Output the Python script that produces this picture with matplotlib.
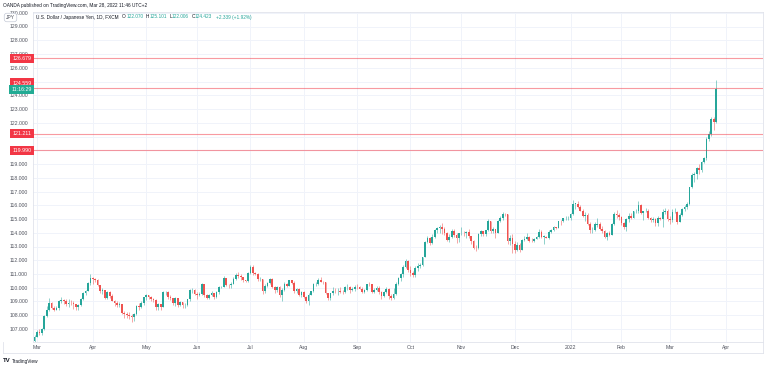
import matplotlib
matplotlib.use("Agg")
import matplotlib.pyplot as plt
import matplotlib.transforms as mtransforms
from matplotlib.lines import Line2D
import pandas as pd

plt.rcParams["font.family"] = ["Liberation Sans", "DejaVu Sans"]

W, H = 768, 368

# USD/JPY daily, first candle Fri 2021-02-26, every weekday after that
start_date = "2021-02-26"
first_open = 106.10

closes = [
    106.45,
    # Mar 2021
    106.75, 106.70, 107.00, 107.97, 108.35, 108.90, 108.50, 108.40, 108.50, 109.03, 109.13, 109.00,
    108.83, 108.90, 108.88, 108.80, 108.58, 108.73, 109.15, 109.62, 109.80, 110.35, 110.72,
    # Apr
    110.62, 110.60, 110.18, 109.73, 109.85, 109.28, 109.67, 109.40, 109.05, 108.90, 108.75, 108.80,
    108.15, 108.10, 108.05, 107.95, 107.85, 108.08, 108.70, 108.62, 108.90, 109.30,
    # May
    109.45, 109.30, 109.20, 109.08, 108.58, 108.80, 108.62, 109.68, 109.72, 109.35, 109.22, 108.90,
    109.22, 108.78, 108.95, 108.75, 108.75, 109.15, 109.83, 109.85, 109.56,
    # Jun
    109.50, 109.52, 110.28, 109.50, 109.25, 109.48, 109.62, 109.32, 109.66, 110.06, 110.08, 110.70,
    110.22, 110.20, 110.30, 110.65, 110.93, 110.88, 110.75, 110.58, 110.48, 111.06,
    # Jul
    111.52, 111.05, 110.98, 110.62, 110.62, 109.75, 110.15, 110.35, 110.62, 110.04, 109.82, 110.06,
    109.45, 109.85, 110.28, 110.16, 110.55, 110.38, 109.77, 109.90, 109.47, 109.70,
    # Aug
    109.30, 109.05, 109.48, 109.75, 110.24, 110.27, 110.58, 110.42, 110.40, 109.60, 109.25, 109.60,
    109.78, 109.75, 109.78, 109.72, 109.68, 110.04, 110.07, 109.84, 109.90, 110.03,
    # Sep
    110.02, 109.93, 109.71, 109.84, 110.26, 110.25, 109.72, 109.87, 110.00, 109.68, 109.38, 109.71,
    109.94, 109.39, 109.23, 109.52, 110.30, 110.74, 110.99, 111.50, 111.96, 111.29,
    # Oct
    111.06, 110.93, 111.45, 111.55, 111.62, 112.23, 113.32, 113.60, 113.26, 113.68, 114.22, 114.34,
    114.39, 114.30, 114.00, 113.48, 113.70, 114.14, 113.82, 113.60, 113.95,
    # Nov
    114.00, 113.96, 114.05, 113.75, 113.40, 112.90, 112.88, 113.90, 114.10, 113.88, 114.18, 114.82,
    114.10, 114.28, 114.00, 114.85, 115.08, 115.38, 115.35, 113.38, 113.65, 113.15,
    # Dec
    112.78, 113.10, 112.78, 113.48, 113.55, 113.72, 113.42, 113.40, 113.58, 113.70, 114.05, 113.70,
    113.70, 113.65, 114.08, 114.22, 114.42, 114.38, 114.84, 114.82, 115.05, 115.06, 115.08,
    # Jan 2022
    115.34, 116.12, 116.12, 115.85, 115.58, 115.20, 115.30, 114.62, 114.19, 114.20, 114.60, 114.62,
    114.28, 114.10, 113.68, 113.98, 113.87, 114.65, 115.38, 115.26, 115.12,
    # Feb
    114.70, 114.40, 114.98, 115.25, 115.08, 115.55, 115.55, 116.02, 115.42, 115.57, 115.58, 115.08,
    114.90, 115.00, 114.73, 115.05, 115.00, 115.52, 115.58, 114.98,
    # Mar 2022
    114.90, 115.48, 115.52, 114.78, 115.30, 115.70, 115.90, 116.08, 117.30, 118.18, 118.30, 118.68,
    118.60, 119.18, 119.42, 120.85, 121.16, 122.30, 122.07, 124.423,
]

highs = [
    106.55,
    106.95, 107.00, 107.05, 108.00, 108.64, 109.23, 108.98, 108.70, 108.70, 109.13, 109.36, 109.20,
    109.15, 109.20, 109.10, 109.05, 108.85, 108.80, 109.25, 109.70, 109.85, 110.45, 110.97,
    110.80, 110.70, 110.65, 110.20, 109.95, 109.85, 109.75, 109.75, 109.55, 109.10, 109.00, 108.95,
    108.80, 108.30, 108.25, 108.20, 108.10, 108.15, 108.75, 108.90, 109.05, 109.35,
    109.55, 109.50, 109.40, 109.25, 109.15, 108.90, 108.85, 109.78, 109.80, 109.75, 109.45, 109.25,
    109.30, 109.25, 109.05, 108.95, 108.90, 109.20, 109.90, 110.00, 109.90,
    109.70, 109.70, 110.33, 110.25, 109.55, 109.55, 109.75, 109.65, 109.80, 110.10, 110.15, 110.82,
    110.70, 110.28, 110.40, 110.80, 111.10, 111.12, 111.00, 110.80, 110.60, 111.12,
    111.66, 111.65, 111.15, 111.05, 110.80, 110.65, 110.25, 110.45, 110.70, 110.70, 110.10, 110.10,
    110.10, 110.00, 110.40, 110.35, 110.60, 110.60, 110.50, 110.00, 109.95, 109.80,
    109.75, 109.40, 109.65, 109.80, 110.35, 110.40, 110.70, 110.80, 110.50, 110.45, 109.60, 109.65,
    110.05, 110.00, 109.95, 110.05, 109.85, 110.15, 110.25, 110.10, 110.05, 110.20,
    110.25, 110.10, 110.05, 109.90, 110.30, 110.45, 110.30, 110.00, 110.15, 110.15, 109.75, 109.80,
    110.05, 109.95, 109.55, 109.95, 110.45, 110.80, 111.05, 111.65, 112.08, 112.00,
    111.60, 111.20, 111.55, 111.80, 111.80, 112.25, 113.40, 113.80, 113.70, 113.90, 114.25, 114.45,
    114.55, 114.70, 114.40, 114.05, 113.90, 114.30, 114.30, 113.95, 114.00,
    114.45, 114.15, 114.15, 114.25, 113.80, 113.45, 113.10, 114.00, 114.20, 114.15, 114.22, 114.97,
    114.82, 114.40, 114.30, 114.90, 115.20, 115.52, 115.45, 115.30, 113.85, 113.90,
    113.40, 113.30, 113.25, 113.55, 113.80, 113.95, 113.75, 113.65, 113.65, 113.80, 114.25, 114.20,
    113.85, 113.80, 114.20, 114.30, 114.52, 114.45, 114.85, 114.95, 115.08, 115.20, 115.25,
    115.40, 116.35, 116.15, 116.30, 116.00, 115.75, 115.50, 115.40, 114.75, 114.40, 114.75, 115.05,
    114.75, 114.50, 114.20, 114.05, 114.10, 114.70, 115.50, 115.68, 115.45,
    115.25, 114.80, 115.05, 115.40, 115.45, 115.60, 115.70, 116.34, 116.10, 115.60, 115.80, 115.75,
    115.15, 115.15, 115.05, 115.25, 115.15, 115.75, 115.78, 115.70,
    115.25, 115.70, 115.80, 115.55, 115.45, 115.80, 116.00, 116.25, 117.35, 118.35, 118.45, 118.75,
    119.00, 119.25, 119.50, 120.95, 121.40, 122.40, 122.45, 125.101,
]

lows = [
    105.95,
    106.40, 106.60, 106.55, 106.95, 107.85, 108.30, 108.45, 108.30, 108.35, 108.40, 108.90, 108.80,
    108.65, 108.60, 108.75, 108.45, 108.40, 108.40, 108.65, 109.10, 109.45, 109.75, 110.20,
    110.30, 110.45, 110.15, 109.65, 109.55, 109.20, 109.20, 109.25, 109.00, 108.65, 108.60, 108.60,
    108.10, 107.80, 107.80, 107.75, 107.48, 107.60, 108.00, 108.40, 108.55, 108.75,
    109.10, 109.15, 109.05, 108.95, 108.35, 108.40, 108.35, 108.60, 109.45, 109.20, 109.10, 108.75,
    108.70, 108.60, 108.70, 108.55, 108.55, 108.70, 109.05, 109.60, 109.45,
    109.20, 109.40, 109.45, 109.30, 109.20, 109.18, 109.40, 109.20, 109.25, 109.55, 109.95, 110.05,
    110.15, 109.95, 110.00, 110.25, 110.60, 110.70, 110.60, 110.45, 110.40, 110.45,
    111.00, 110.95, 110.90, 110.50, 110.50, 109.55, 109.60, 110.05, 110.30, 109.95, 109.65, 109.70,
    109.35, 109.05, 109.80, 110.05, 110.10, 110.30, 109.65, 109.60, 109.40, 109.35,
    109.25, 108.90, 108.72, 109.45, 109.70, 110.10, 110.20, 110.40, 110.30, 109.55, 109.10, 109.10,
    109.50, 109.60, 109.45, 109.60, 109.55, 109.60, 109.85, 109.65, 109.75, 109.80,
    109.90, 109.90, 109.60, 109.65, 109.75, 110.10, 109.60, 109.60, 109.80, 109.55, 109.15, 109.35,
    109.65, 109.20, 109.10, 109.20, 109.45, 110.20, 110.50, 110.75, 111.45, 111.15,
    110.85, 110.80, 110.80, 111.25, 111.45, 111.55, 112.20, 113.25, 113.10, 113.20, 113.60, 113.95,
    114.00, 113.90, 113.85, 113.40, 113.30, 113.65, 113.70, 113.25, 113.35,
    113.85, 113.75, 113.65, 113.65, 113.20, 112.80, 112.70, 112.80, 113.80, 113.75, 113.80, 114.10,
    114.00, 114.00, 113.60, 113.95, 114.80, 114.95, 115.20, 113.15, 113.10, 112.55,
    112.55, 112.70, 112.60, 112.75, 113.40, 113.45, 113.35, 113.35, 113.30, 113.55, 113.60, 113.65,
    113.15, 113.60, 113.55, 113.95, 114.15, 114.30, 114.35, 114.60, 114.75, 114.90, 114.95,
    114.95, 115.30, 115.75, 115.80, 115.55, 115.15, 114.85, 114.60, 114.00, 113.95, 114.10, 114.40,
    114.20, 113.95, 113.65, 113.45, 113.75, 113.85, 114.60, 115.05, 114.95,
    114.55, 114.25, 114.15, 114.80, 115.00, 115.05, 115.40, 115.45, 115.35, 114.95, 115.50, 115.00,
    114.80, 114.80, 114.50, 114.50, 114.90, 114.40, 115.35, 114.85,
    114.65, 114.80, 115.40, 114.65, 114.75, 115.20, 115.60, 115.70, 116.00, 117.25, 117.70, 117.90,
    118.30, 118.45, 119.05, 119.30, 120.70, 121.05, 121.50, 122.006,
]

# horizontal levels drawn on the chart
levels = [126.679, 124.559, 121.211, 119.990]

symbol = "U.S. Dollar / Japanese Yen, 1D, FXCM"
last_ohlc = [("O", 122.070), ("H", 125.101), ("L", 122.006), ("C", 124.423)]
change, change_pct = 2.339, 1.92
countdown = "11:16:29"
published = "OANDA published on TradingView.com, Mar 28, 2022 11:46 UTC+2"

opens = [first_open] + closes[:-1]
n = len(closes)

GREEN = "#26a69a"
RED = "#ef5350"
GRID = "#f0f3fa"
FRAME = "#e0e3eb"
TXT = "#50535e"

fig = plt.figure(figsize=(W / 100, H / 100), dpi=100)
fig.patch.set_facecolor("white")
ax = fig.add_axes([33 / W, 1 - 342 / H, (763 - 33) / W, (342 - 12) / H])

xs = list(range(n))
cols = [GREEN if c >= o else RED for o, c in zip(opens, closes)]
lo = [min(l, o, c) for l, o, c in zip(lows, opens, closes)]
hi = [max(h, o, c) for h, o, c in zip(highs, opens, closes)]
ax.vlines(xs, lo, hi, colors=cols, linewidth=0.6, alpha=0.6, zorder=3)
body = [max(abs(c - o), 0.03) for o, c in zip(opens, closes)]
bottom = [min(o, c) for o, c in zip(opens, closes)]
ax.bar(xs, body, bottom=bottom, width=0.7, color=cols, linewidth=0, zorder=4)

for lv in levels:
    ax.axhline(lv, color="#f23645", alpha=0.5, linewidth=0.8, zorder=5)

# month ticks from the trading calendar
dates = pd.bdate_range(start_date, periods=n + 10)
month_pos, month_lab = [], []
for i in range(1, len(dates)):
    d = dates[i]
    if d.month != dates[i - 1].month:
        month_pos.append(i)
        month_lab.append(str(d.year) if d.month == 1 else d.strftime("%b"))

i_first = month_pos[0]
i_last = month_pos[12]
ppb = (670 - 37) / (i_last - i_first)
ax.set_xlim(i_first - (37 - 33) / ppb, i_last + (763 - 670) / ppb)
ax.set_ylim(107 - (342 - 329) / 13.75, 107 + (329 - 12) / 13.75)

ax.set_xticks(month_pos)
ax.set_xticklabels(month_lab)
# price ticks; the ones under the level labels stay hidden like on the chart
hidden = {125, 121, 120}
yt = list(range(107, 131))
ax.set_yticks(yt)
ax.set_yticklabels(["" if v in hidden else f"{v:.3f}" for v in yt])
ax.tick_params(axis="both", length=0, labelsize=3.7, colors=TXT)
ax.tick_params(axis="y", pad=3.6)
ax.tick_params(axis="x", pad=2.4)
ax.grid(True, color=GRID, linewidth=0.7, zorder=0)
ax.set_axisbelow(True)
for s in ax.spines.values():
    s.set_color(FRAME)
    s.set_linewidth(0.6)

# outer frame of the time scale
for (x0, y0, x1, y1) in [(3, 353, 763, 353), (3, 342, 3, 353), (763, 342, 763, 353)]:
    fig.add_artist(Line2D([x0 / W, x1 / W], [1 - y0 / H, 1 - y1 / H], color=FRAME, linewidth=0.6))

# price labels on the scale
lab_tr = mtransforms.blended_transform_factory(fig.transFigure, ax.transData)
lab_pos = {126.679: 126.679, 124.559: 124.89, 121.211: 121.211, 119.990: 119.99}
for lv in levels:
    ax.text(31.5 / W, lab_pos[lv], f"{lv:.3f}", transform=lab_tr, ha="right", va="center",
            fontsize=3.8, color="white", zorder=20, clip_on=False,
            bbox=dict(boxstyle="square,pad=0.45", fc="#f23645", ec="none"))
ax.text(31.5 / W, closes[-1], countdown, transform=lab_tr, ha="right", va="center",
        fontsize=3.8, color="white", zorder=21, clip_on=False,
        bbox=dict(boxstyle="square,pad=0.45", fc="#22ab94", ec="none"))

# currency badge
fig.text(10.5 / W, 1 - 17.5 / H, "JPY", ha="center", va="center", fontsize=3.6, color=TXT,
         zorder=20, bbox=dict(boxstyle="round,pad=0.35,rounding_size=0.5", fc="white", ec="#c5cad6", lw=0.5))

# header
fs = 3.4
t = fig.text(36 / W, 1 - 17 / H, symbol, fontsize=fs, color="#131722", va="center")
gap = 2.6
for k, v in last_ohlc:
    t = fig.add_artist(plt.Annotation(k, xy=(1, 0), xycoords=t, xytext=(gap, 0),
                                      textcoords="offset points", fontsize=fs, color="#131722", va="bottom"))
    t = fig.add_artist(plt.Annotation(f"{v:.3f}", xy=(1, 0), xycoords=t, xytext=(0.1, 0),
                                      textcoords="offset points", fontsize=fs, color=GREEN, va="bottom"))
    gap = 1.8
fig.add_artist(plt.Annotation(f"+{change:.3f} (+{change_pct:.2f}%)", xy=(1, 0), xycoords=t, xytext=(2.4, 0),
                              textcoords="offset points", fontsize=fs, color=GREEN, va="bottom"))

fig.text(3 / W, 1 - 5 / H, published, fontsize=fs, color="#131722", va="center")
fig.text(3 / W, 1 - 361 / H, "TV", fontsize=4.4, color="#131722", va="center", fontweight="bold")
fig.text(12 / W, 1 - 361 / H, "TradingView", fontsize=fs, color="#131722", va="center")

fig.savefig("out.png", dpi=100)
